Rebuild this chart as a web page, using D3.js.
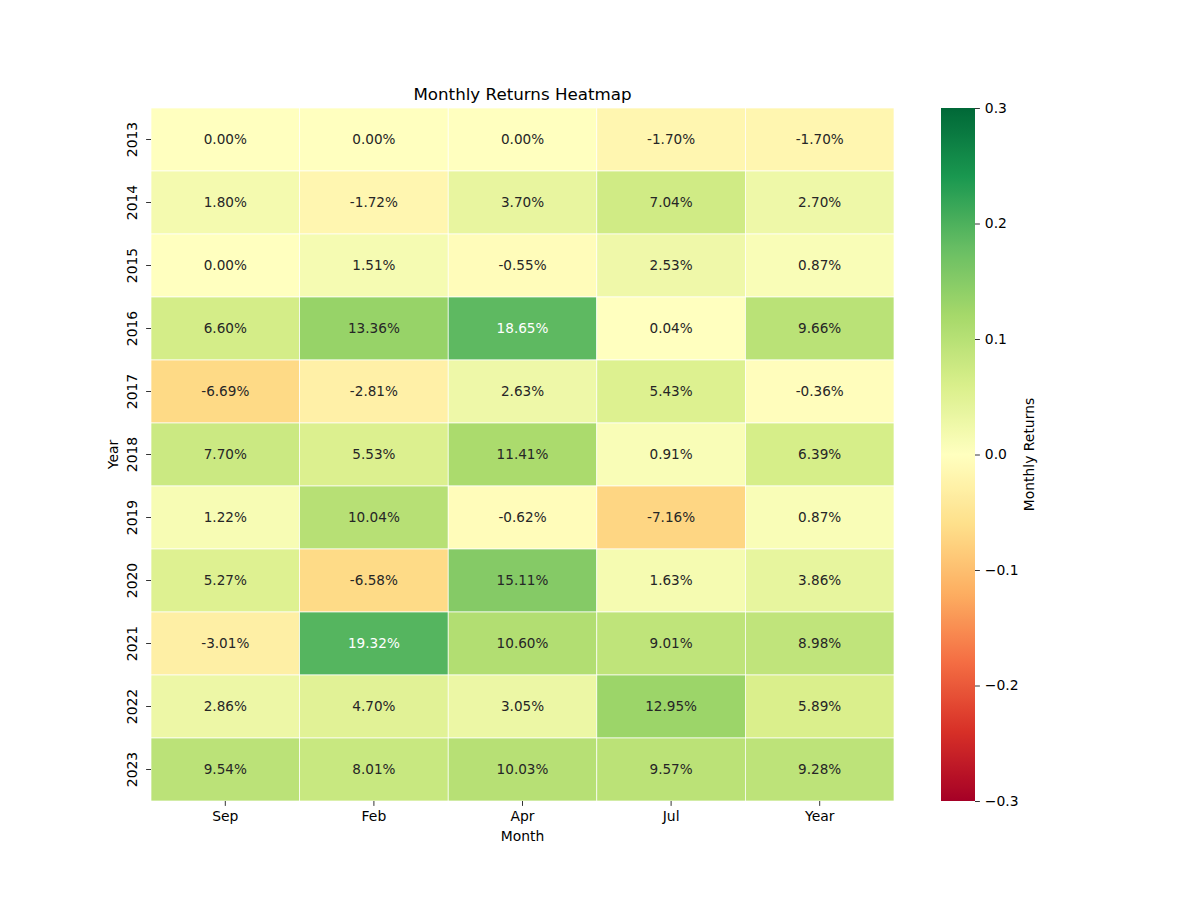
<!DOCTYPE html>
<html><head><meta charset="utf-8">
<script src="https://cdn.jsdelivr.net/npm/d3@7"></script>
<style>body{margin:0;background:#fff;} svg{display:block;font-family:"DejaVu Sans",sans-serif;}</style>
</head><body>
<svg id="c" width="1200" height="900"></svg>
<script>
const months = ["Sep","Feb","Apr","Jul","Year"];
const years = ["2013","2014","2015","2016","2017","2018","2019","2020","2021","2022","2023"];
const values = [
 [0.0000, 0.0000, 0.0000, -0.0170, -0.0170],
 [0.0180, -0.0172, 0.0370, 0.0704, 0.0270],
 [0.0000, 0.0151, -0.0055, 0.0253, 0.0087],
 [0.0660, 0.1336, 0.1865, 0.0004, 0.0966],
 [-0.0669, -0.0281, 0.0263, 0.0543, -0.0036],
 [0.0770, 0.0553, 0.1141, 0.0091, 0.0639],
 [0.0122, 0.1004, -0.0062, -0.0716, 0.0087],
 [0.0527, -0.0658, 0.1511, 0.0163, 0.0386],
 [-0.0301, 0.1932, 0.1060, 0.0901, 0.0898],
 [0.0286, 0.0470, 0.0305, 0.1295, 0.0589],
 [0.0954, 0.0801, 0.1003, 0.0957, 0.0928]
];
const cbTicks = [-0.3,-0.2,-0.1,0.0,0.1,0.2,0.3];
const paletteColors = ["#a50026","#d73027","#f46d43","#fdae61","#fee08b","#ffffbf","#d9ef8b","#a6d96a","#66bd63","#1a9850","#006837"];

const svg = d3.select("#c");
const L=151, R=894, T=108, B=801;
const x = d3.scaleBand().domain(months).range([L,R]);
const y = d3.scaleBand().domain(years).range([T,B]);
const vmin=-0.3, vmax=0.3;
const color = d3.scaleLinear()
  .domain(d3.range(11).map(i=>vmin+(vmax-vmin)*i/10))
  .range(paletteColors).interpolate(d3.interpolateRgb).clamp(true);

function lum(c){
  const r=d3.rgb(c);
  const f=v=>{v/=255;return v<=0.03928?v/12.92:Math.pow((v+0.055)/1.055,2.4);};
  return 0.2126*f(r.r)+0.7152*f(r.g)+0.0722*f(r.b);
}

const cells=[];
years.forEach((yr,i)=>months.forEach((m,j)=>cells.push({yr,m,v:values[i][j]})));

svg.append("g").selectAll("rect").data(cells).join("rect")
  .attr("x",d=>x(d.m)).attr("y",d=>y(d.yr))
  .attr("width",x.bandwidth()).attr("height",y.bandwidth())
  .attr("fill",d=>color(d.v)).attr("stroke","#fff").attr("stroke-width",0.7);

svg.append("g").selectAll("text").data(cells).join("text")
  .attr("x",d=>x(d.m)+x.bandwidth()/2).attr("y",d=>y(d.yr)+y.bandwidth()/2-1)
  .attr("text-anchor","middle").attr("dominant-baseline","central")
  .attr("font-size","13.6px")
  .attr("fill",d=>lum(color(d.v))>0.408?"#262626":"#ffffff")
  .text(d=>(d.v*100).toFixed(2)+"%");

// x axis
const xa = svg.append("g").attr("transform",`translate(0,${B})`)
  .call(d3.axisBottom(x).tickSize(4.9).tickPadding(4.9));
xa.select(".domain").remove();
xa.selectAll("line").attr("stroke","#000").attr("stroke-width",0.8);
xa.selectAll("text").attr("font-size","13.9px").attr("fill","#000").attr("font-family","DejaVu Sans");

const ya = svg.append("g").attr("transform",`translate(${L},0)`)
  .call(d3.axisLeft(y).tickSize(4.9).tickPadding(4.9));
ya.select(".domain").remove();
ya.selectAll("line").attr("stroke","#000").attr("stroke-width",0.8);
ya.selectAll("text").attr("font-size","13.9px").attr("fill","#000").attr("font-family","DejaVu Sans")
  .attr("text-anchor","middle").attr("dy",null).attr("dominant-baseline",null)
  .each(function(){
     const t=d3.select(this);
     t.attr("x",null);
     t.attr("transform","translate(-14,0) rotate(-90)").attr("y",0).attr("dy","0");
  });

svg.append("text").attr("x",(L+R)/2).attr("y",841).attr("text-anchor","middle")
  .attr("font-size","13.9px").text("Month");
svg.append("text").attr("transform",`translate(118,${(T+B)/2}) rotate(-90)`).attr("text-anchor","middle")
  .attr("font-size","13.9px").text("Year");
svg.append("text").attr("x",(L+R)/2).attr("y",100).attr("text-anchor","middle")
  .attr("font-size","16.7px").text("Monthly Returns Heatmap");

// colorbar
const CL=941, CR=975;
const cy = d3.scaleLinear().domain([vmin,vmax]).range([B,T]);
const defs = svg.append("defs");
const grad = defs.append("linearGradient").attr("id","cbg").attr("x1",0).attr("y1",1).attr("x2",0).attr("y2",0);
d3.range(0,101).forEach(i=>{
  const v=vmin+(vmax-vmin)*i/100;
  grad.append("stop").attr("offset",i+"%").attr("stop-color",color(v));
});
svg.append("rect").attr("x",CL).attr("y",T).attr("width",CR-CL).attr("height",B-T).attr("fill","url(#cbg)");
const ca = svg.append("g").attr("transform",`translate(${CR},0)`)
  .call(d3.axisRight(cy).tickValues(cbTicks).tickSize(4.9).tickPadding(4.9)
     .tickFormat(d=>d3.format(".1f")(d).replace("-","\u2212")));
ca.select(".domain").remove();
ca.selectAll("line").attr("stroke","#000").attr("stroke-width",0.8);
ca.selectAll("text").attr("font-size","13.9px").attr("fill","#000").attr("font-family","DejaVu Sans");
svg.append("text").attr("transform",`translate(1034,${(T+B)/2}) rotate(-90)`).attr("text-anchor","middle")
  .attr("font-size","13.9px").text("Monthly Returns");
</script>
</body></html>
